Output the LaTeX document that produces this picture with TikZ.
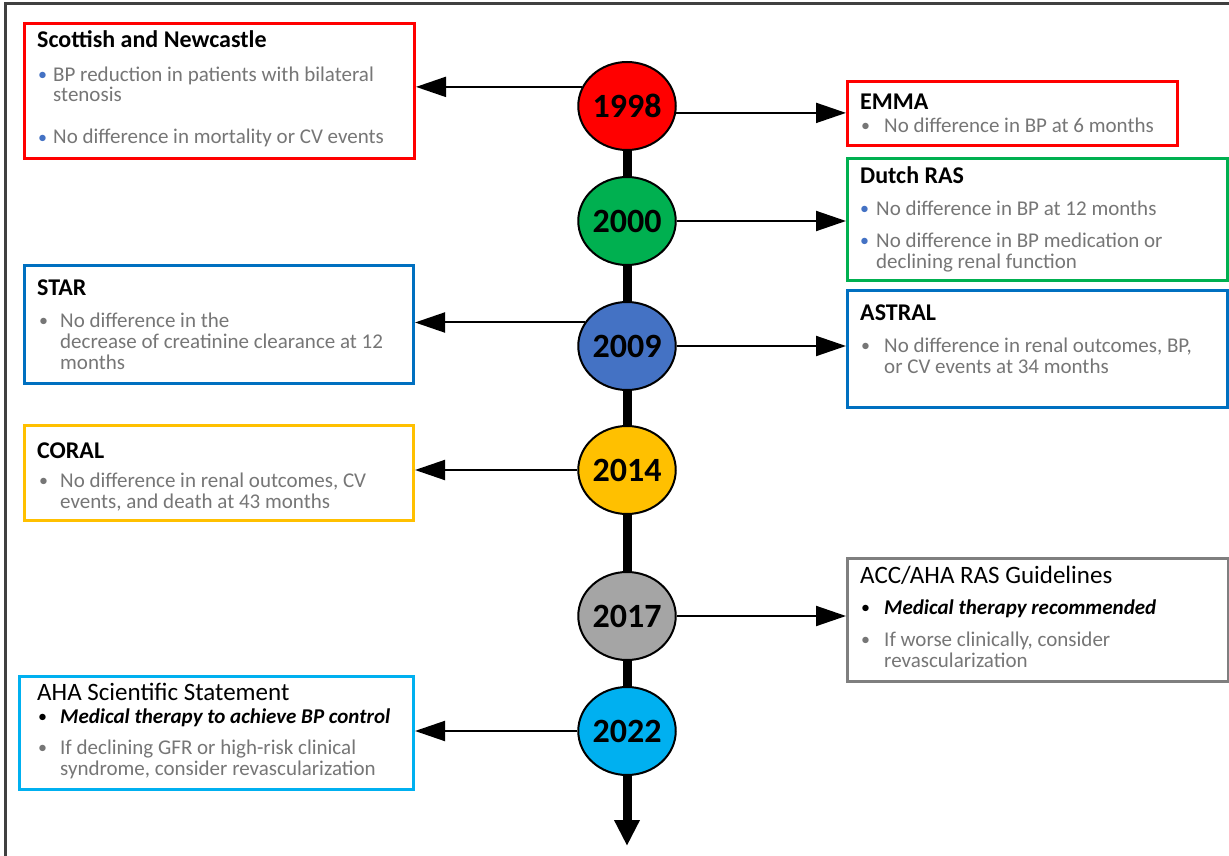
\documentclass[tikz,border=0pt]{standalone}
\usepackage{fontspec}
\setmainfont{Carlito}
\usetikzlibrary{arrows.meta,shapes.geometric}
\definecolor{cRed}{HTML}{FF0000}
\definecolor{cGreen}{HTML}{00B050}
\definecolor{cBoxBlue}{HTML}{0070C0}
\definecolor{cCirBlue}{HTML}{4472C4}
\definecolor{cGold}{HTML}{FFC000}
\definecolor{cBoxGray}{HTML}{7F7F7F}
\definecolor{cCirGray}{HTML}{A5A5A5}
\definecolor{cLight}{HTML}{00B0F0}
\definecolor{tgray}{HTML}{767676}
\definecolor{frame}{HTML}{404040}
\begin{document}
\begin{tikzpicture}[x=1pt,y=-1pt,
  box/.style={draw=#1, line width=3pt, anchor=north west, inner sep=0pt, fill=white},
  year/.style={ellipse, draw=black, line width=2pt, fill=#1, minimum width=92pt, minimum height=88pt, inner sep=0pt, font=\fontsize{34}{34}\selectfont\bfseries},
  conn/.style={line width=2pt, -{Triangle[length=30pt,width=20pt]}},
  spine/.style={line width=9pt},
  ttl/.style={anchor=base west, inner sep=0pt, font=\fontsize{24}{24}\selectfont\bfseries},
  ttlr/.style={anchor=base west, inner sep=0pt, font=\fontsize{25}{25}\selectfont},
  body/.style={anchor=base west, inner sep=0pt, font=\fontsize{21}{21}\selectfont, text=tgray},
  bold/.style={anchor=base west, inner sep=0pt, font=\fontsize{21}{21}\selectfont\bfseries\itshape, text=black},
  bul/.style={anchor=base west, inner sep=0pt, font=\fontsize{18}{18}\selectfont, text=#1}
]
\useasboundingbox (0,0) rectangle (1229,856);
\draw[line width=2.5pt, frame] (5.5,856) -- (5.5,3.5) -- (1229,3.5);

% boxes
\node[box=cRed, minimum width=390pt, minimum height=135pt] (scot) at (23,22) {};
\node[box=cRed, minimum width=330pt, minimum height=64pt] (emma) at (846,80) {};
\node[box=cGreen, minimum width=380pt, minimum height=122pt] (dutch) at (846,157) {};
\node[box=cBoxBlue, minimum width=380pt, minimum height=117pt] (astral) at (846,289) {};
\node[box=cBoxBlue, minimum width=389pt, minimum height=118pt] (star) at (23,264) {};
\node[box=cGold, minimum width=389pt, minimum height=95pt] (coral) at (23,424) {};
\node[box=cBoxGray, minimum width=381pt, minimum height=123pt] (acc) at (846,557) {};
\node[box=cLight, minimum width=394pt, minimum height=113pt] (aha) at (18,675) {};

% year circles
\node[year=cRed] (c1998) at (627,106) {1998};
\node[year=cGreen] (c2000) at (627,221) {2000};
\node[year=cCirBlue] (c2009) at (627,346) {2009};
\node[year=cGold] (c2014) at (627,470) {2014};
\node[year=cCirGray] (c2017) at (627,616) {2017};
\node[year=cLight] (c2022) at (627,731) {2022};
\coordinate (tend) at (627,846);

% spine
\draw[spine] (c1998.south) -- (c2000.north);
\draw[spine] (c2000.south) -- (c2009.north);
\draw[spine] (c2009.south) -- (c2014.north);
\draw[spine] (c2014.south) -- (c2017.north);
\draw[spine] (c2017.south) -- (c2022.north);
\draw[spine, -{Triangle[length=26pt,width=24pt]}] (c2022.south) -- (tend);

% connectors
\draw[conn] (c1998.157) -- (c1998.157 -| scot.east);
\draw[conn] (c1998.-8) -- (c1998.-8 -| emma.west);
\draw[conn] (c2000.east) -- (c2000.east -| dutch.west);
\draw[conn] (c2009.151) -- (c2009.151 -| star.east);
\draw[conn] (c2009.east) -- (c2009.east -| astral.west);
\draw[conn] (c2014.west) -- (c2014.west -| coral.east);
\draw[conn] (c2017.east) -- (c2017.east -| acc.west);
\draw[conn] (c2022.west) -- (c2022.west -| aha.east);

% Scottish and Newcastle
\node[ttl] (scotT) at (37,48) {Scottish and Newcastle};
\node[bul=cCirBlue] (scotB1) at (38,81) {•};
\node[body] (scotL1) at (53,82) {BP reduction in patients with bilateral};
\node[body] (scotL2) at (53,102) {stenosis};
\node[bul=cCirBlue] (scotB2) at (38,143) {•};
\node[body] (scotL3) at (53,144) {No difference in mortality or CV events};

% EMMA
\node[ttl] (emmaT) at (860,110) {EMMA};
\node[bul=tgray] (emmaB1) at (861,132) {•};
\node[body] (emmaL1) at (884,133) {No difference in BP at 6 months};

% Dutch RAS
\node[ttl] (dutchT) at (860,183) {Dutch RAS};
\node[bul=cCirBlue] (dutchB1) at (860,214) {•};
\node[body] (dutchL1) at (876,215) {No difference in BP at 12 months};
\node[bul=cCirBlue] (dutchB2) at (860,246) {•};
\node[body] (dutchL2) at (876,247) {No difference in BP medication or};
\node[body] (dutchL3) at (876,268) {declining renal function};

% STAR
\node[ttl] (starT) at (37,295) {STAR};
\node[bul=tgray] (starB1) at (39,326) {•};
\node[body] (starL1) at (60,327) {No difference in the};
\node[body] (starL2) at (60,348) {decrease of creatinine clearance at 12};
\node[body] (starL3) at (60,369) {months};

% ASTRAL
\node[ttl] (astralT) at (860,320) {ASTRAL};
\node[bul=tgray] (astralB1) at (861,351) {•};
\node[body] (astralL1) at (884,352) {No difference in renal outcomes, BP,};
\node[body] (astralL2) at (884,373) {or CV events at 34 months};

% CORAL
\node[ttl] (coralT) at (37,458) {CORAL};
\node[bul=tgray] (coralB1) at (39,486) {•};
\node[body] (coralL1) at (60,487) {No difference in renal outcomes, CV};
\node[body] (coralL2) at (60,508) {events, and death at 43 months};

% ACC/AHA
\node[ttlr] (accT) at (860,583) {ACC/AHA RAS Guidelines};
\node[bul=black] (accB1) at (861,613) {•};
\node[bold] (accL1) at (884,614) {Medical therapy recommended};
\node[bul=tgray] (accB2) at (861,645) {•};
\node[body] (accL2) at (884,646) {If worse clinically, consider};
\node[body] (accL3) at (884,667) {revascularization};

% AHA Scientific Statement
\node[ttlr] (ahaT) at (37,700) {AHA Scientific Statement};
\node[bul=black] (ahaB1) at (38,722) {•};
\node[bold] (ahaL1) at (60,723) {Medical therapy to achieve BP control};
\node[bul=tgray] (ahaB2) at (38,753) {•};
\node[body] (ahaL2) at (60,754) {If declining GFR or high-risk clinical};
\node[body] (ahaL3) at (60,775) {syndrome, consider revascularization};
\end{tikzpicture}
\end{document}
